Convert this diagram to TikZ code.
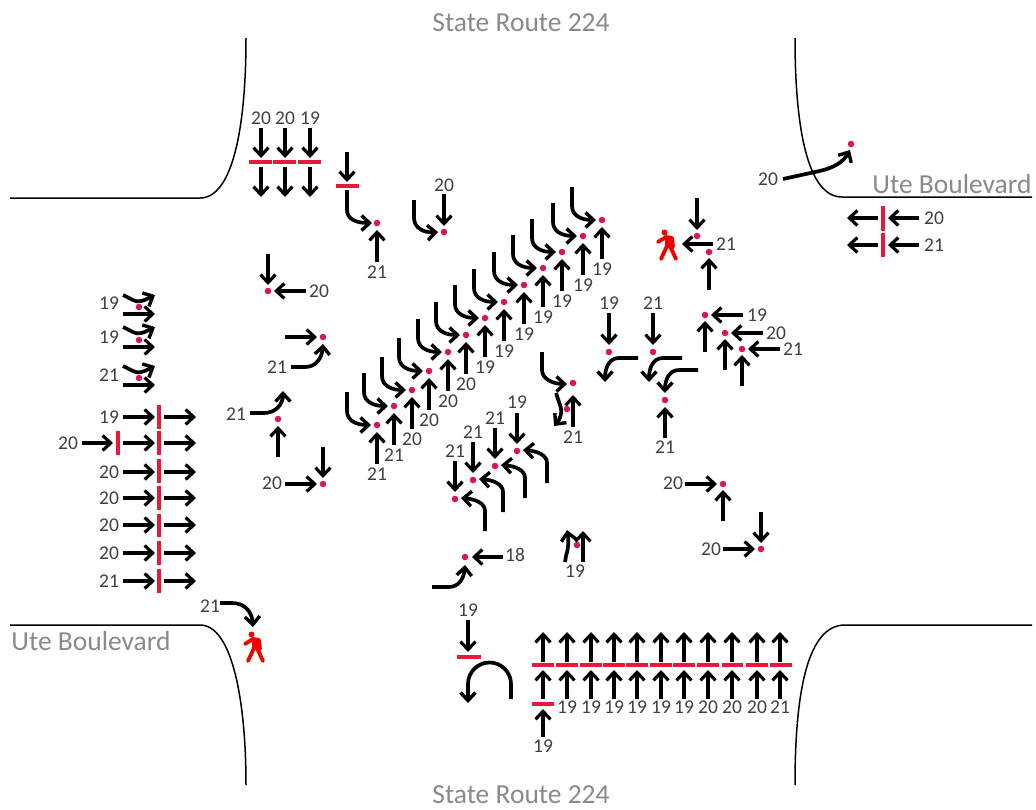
\documentclass[tikz,border=0pt]{standalone}
\usepackage{fontspec}
\setmainfont{Carlito}
\usetikzlibrary{arrows.meta}
\definecolor{barred}{HTML}{E6193C}
\definecolor{dotred}{HTML}{DC1450}
\definecolor{labgray}{HTML}{404040}
\definecolor{titlegray}{HTML}{8A8A8A}
\tikzset{
  mv/.style={draw=black,line width=3.1pt,-{Straight Barb[length=8pt,width=15pt,line width=3.2pt]}},
  mvc/.style={draw=black,line width=3.7pt,-{Straight Barb[length=8pt,width=15pt,line width=3.4pt]}},
  road/.style={draw=black,line width=1.5pt},
  bar/.style={draw=barred,line width=3.4pt},
  rd/.style={circle,fill=dotred,inner sep=0pt,minimum size=6.5pt},
  lab/.style={text=labgray,inner sep=0pt,font=\fontsize{19.5}{22}\selectfont},
  ttl/.style={text=titlegray,inner sep=0pt,font=\fontsize{27.5}{29}\selectfont},
  pedline/.style={draw=red!95!black,line width=3.8pt,line cap=round,line join=round}
}
\newcounter{cn}
\newcommand\sa[4]{\stepcounter{cn}\coordinate (s\thecn) at (#1,#2);\coordinate (t\thecn) at (#3,#4);\draw[mv] (s\thecn) -- (t\thecn);}
\newcommand\ca[5]{\stepcounter{cn}\coordinate (s\thecn) at (#1);\coordinate (t\thecn) at (#5);\draw[mvc] (s\thecn) -- (#2) .. controls (#3) and (#4) .. (t\thecn);}
\newcommand\bh[3]{\stepcounter{cn}\coordinate (b\thecn) at (#1,#3);\coordinate (e\thecn) at (#2,#3);\draw[bar] (b\thecn) -- (e\thecn);}
\newcommand\bv[3]{\stepcounter{cn}\coordinate (b\thecn) at (#1,#2);\coordinate (e\thecn) at (#1,#3);\draw[bar] (b\thecn) -- (e\thecn);}
\newcommand\lb[3]{\stepcounter{cn}\node[lab] (l\thecn) at (#1,#2) {#3};}
\newcommand\pedfig[2]{\begin{scope}[shift={(#1,#2)}]
  \fill[red!95!black] (-3.5,-12.5) circle (3);
  \draw[pedline] (-10,-3) -- (-2,-8) -- (4,-7) -- (5,2);
  \draw[pedline] (-7,14) -- (-1,1) -- (2,1) -- (8,14);
  \draw[pedline] (-1,-7) -- (-1,1);
  \draw[pedline] (2,-6) -- (2,1);
\end{scope}}
\begin{document}
\begin{tikzpicture}[x=1pt,y=-1pt]
\useasboundingbox (0,0) rectangle (1036,809);
\fill[white] (0,0) rectangle (1036,809);
% roads
\draw[road] (10,198) -- (200,198) .. controls (232,198) and (246,130) .. (246,38);
\draw[road] (795,38) .. controls (795,130) and (808,197) .. (842,197) -- (1032,197);
\draw[road] (10,625) -- (200,625) .. controls (232,625) and (246,700) .. (246,785);
\draw[road] (795,785) .. controls (795,690) and (808,625) .. (845,625) -- (1032,625);
% titles
\node[ttl] (tn) at (521,23) {State Route 224};
\node[ttl] (ts) at (521,795) {State Route 224};
\node[ttl] (te) at (952,184) {Ute Boulevard};
\node[ttl] (tw) at (91,641) {Ute Boulevard};
% top stack
\foreach \x/\l in {261/20,285/20,310/19}{
  \lb{\x}{118}{\l}
  \sa{\x}{128}{\x}{158}
  \bh{\the\numexpr\x-12\relax}{\the\numexpr\x+11\relax}{162}
  \sa{\x}{167}{\x}{197}
}
\sa{347}{152}{347}{182}
\bh{336}{359}{186}
% diagonal-style turn + through pairs
\foreach \i/\x/\y/\l in {a/602/220/19,b/583/236/19,c/562/252/19,d/543/268/19,e/524/285/19,f/504/302/19,g/485/318/19,h/466/335/20,i/448/352/20,j/429/371/20,k/412/390/20,m/394/406/21,n/377/425/21}{
  \node[rd] (d\i) at (\x,\y) {};
  \draw[mvc] ([shift={(-30,-33)}]d\i.center) -- ([shift={(-30,-14)}]d\i.center) .. controls ([shift={(-30,-4)}]d\i.center) and ([shift={(-20,0)}]d\i.center) .. ([shift={(-6,0)}]d\i.center);
  \draw[mv] ([shift={(0,39)}]d\i.center) -- ([shift={(0,7)}]d\i.center);
  \node[lab] (q\i) at ([shift={(0,49)}]d\i.center) {\l};
}
% near stop bar pair
\node[rd] (p1) at (377,223) {};
\coordinate (p1t) at (347,190);
\draw[mvc] (p1t) -- (347,210) .. controls (347,219) and (356,223) .. ([xshift=-5pt]p1.center);
\draw[mv] ([shift={(0,39)}]p1.center) -- ([shift={(0,7)}]p1.center);
\node[lab] (p1l) at (377,272) {21};
\node[rd] (p2) at (444,232) {};
\coordinate (p2t) at (414,200);
\draw[mvc] (p2t) -- (414,218) .. controls (414,228) and (424,233) .. ([xshift=-6pt]p2.center);
\draw[mv] ([shift={(0,-38)}]p2.center) -- ([shift={(0,-6)}]p2.center);
\node[lab] (p2l) at (444,185) {20};
\node[rd] (p3) at (268,291) {};
\draw[mv] ([shift={(0,-37)}]p3.center) -- ([shift={(0,-6)}]p3.center);
\draw[mv] ([shift={(38,0)}]p3.center) -- ([shift={(6,0)}]p3.center);
\node[lab] (p3l) at (319,291) {20};
% left lane-shift group
\foreach \i/\yc/\ys/\yd/\lbl/\ly in {1/295/314/307/19/303,2/327/347/340/19/337,3/366/385/378/21/375}{
  \node[rd] (w\i) at (139,\yd) {};
  \node[lab] (wl\i) at (109,\ly) {\lbl};
  \sa{123}{\ys}{155}{\ys}
  \pgfmathsetmacro\ya{\yc+5}\pgfmathsetmacro\yb{\yc+8}\pgfmathsetmacro\yf{\yc+6}
  \ca{123,\yc}{133,\ya}{138,\yb}{143,\yf}{155,\yc}
}
% west lanes
\foreach \y/\l/\ya/\yb in {417/19/405/429,443/20/431/455,472/20/459/483,498/20/486/510,525/20/514/537,553/20/541/565,581/21/569/593}{
  \sa{123}{\y}{155}{\y}
  \bv{159}{\ya}{\yb}
  \sa{164}{\y}{196}{\y}
}
\foreach \y/\l in {417/19,472/20,498/20,525/20,553/20,581/21}{\lb{109}{\y}{\l}}
\lb{68}{443}{20}
\sa{82}{443}{113}{443}
\bv{118}{431}{455}
% middle-left
\node[rd] (e1) at (323,337) {};
\draw[mv] ([shift={(-38,0)}]e1.center) -- ([shift={(-6,0)}]e1.center);
\coordinate (e1t) at (291,367);
\draw[mvc] (e1t) -- (305,367) .. controls (316,367) and (322,358) .. ([shift={(0,7)}]e1.center);
\lb{277}{367}{21}
\node[rd] (e2) at (278,419) {};
\draw[mv] ([shift={(0,38)}]e2.center) -- ([shift={(0,7)}]e2.center);
\ca{250,413}{264,413}{276,413}{283,404}{283,391}
\lb{236}{414}{21}
\node[rd] (e3) at (323,484) {};
\draw[mv] ([shift={(0,-37)}]e3.center) -- ([shift={(0,-6)}]e3.center);
\draw[mv] ([shift={(-38,0)}]e3.center) -- ([shift={(-6,0)}]e3.center);
\lb{272}{483}{20}
% centre pair with right turn
\node[rd] (c1) at (573,383) {};
\draw[mvc] ([shift={(-31,-31)}]c1.center) -- ([shift={(-31,-13)}]c1.center) .. controls ([shift={(-31,-4)}]c1.center) and ([shift={(-20,1)}]c1.center) .. ([shift={(-6,1)}]c1.center);
\draw[mv] ([shift={(0,44)}]c1.center) -- ([shift={(0,12)}]c1.center);
\lb{573}{437}{21}
\node[rd] (c2) at (567,409) {};
\ca{556,393}{559,402}{562,410}{563,415}{554,426}
% south lefts
\foreach \i/\x/\y/\l/\ly in {a/517/451/19/402,b/495/466/21/418,c/473/480/21/432,d/455/499/21/451}{
  \node[rd] (s\i) at (\x,\y) {};
  \draw[mv] ([shift={(0,-38)}]s\i.center) -- ([shift={(0,-7)}]s\i.center);
  \draw[mvc] ([shift={(30,32)}]s\i.center) -- ([shift={(30,12)}]s\i.center) .. controls ([shift={(30,4)}]s\i.center) and ([shift={(20,0)}]s\i.center) .. ([shift={(6,-1)}]s\i.center);
  \node[lab] (sl\i) at (\x,\ly) {\l};
}
\node[rd] (s5) at (465,557) {};
\draw[mv] ([shift={(38,0)}]s5.center) -- ([shift={(7,0)}]s5.center);
\lb{515}{555}{18}
\coordinate (s5t) at (432,587);
\draw[mvc] (s5t) -- (449,587) .. controls (459,587) and (464,578) .. ([shift={(0,8)}]s5.center);
\node[rd] (s6) at (577,545) {};
\sa{583}{562}{583}{531}
\ca{565,562}{566,556}{568,550}{569,542}{567,530}
\lb{575}{571}{19}
% east lefts
\foreach \i/\x/\l in {a/609/19,b/653/21}{
  \node[rd] (n\i) at (\x,352) {};
  \draw[mv] ([shift={(0,-39)}]n\i.center) -- ([shift={(0,-7)}]n\i.center);
  \draw[mvc] ([shift={(29,6)}]n\i.center) -- ([shift={(10,6)}]n\i.center) .. controls ([shift={(0,6)}]n\i.center) and ([shift={(-4,16)}]n\i.center) .. ([shift={(-4,30)}]n\i.center);
  \node[lab] (nl\i) at (\x,303) {\l};
}
\node[rd] (n3) at (665,400) {};
\draw[mv] ([shift={(0,38)}]n3.center) -- ([shift={(0,7)}]n3.center);
\draw[mvc] ([shift={(33,-30)}]n3.center) -- ([shift={(14,-30)}]n3.center) .. controls ([shift={(4,-30)}]n3.center) and ([shift={(0,-20)}]n3.center) .. ([shift={(0,-7)}]n3.center);
\lb{665}{447}{21}
% pedestrian NE
\pedfig{668}{245}
\node[rd] (o1) at (697,236) {};
\draw[mv] ([shift={(0,-38)}]o1.center) -- ([shift={(0,-6)}]o1.center);
\node[rd] (o2) at (709,252) {};
\draw[mv] ([shift={(0,38)}]o2.center) -- ([shift={(0,6)}]o2.center);
\sa{713}{244}{682}{244}
\lb{726}{244}{21}
\foreach \i/\x/\y/\l/\lx in {a/705/315/19/757,b/725/333/20/776,c/742/349/21/793}{
  \node[rd] (r\i) at (\x,\y) {};
  \draw[mv] ([shift={(38,0)}]r\i.center) -- ([shift={(6,0)}]r\i.center);
  \draw[mv] ([shift={(0,37)}]r\i.center) -- ([shift={(0,6)}]r\i.center);
  \node[lab] (rl\i) at (\lx,\y) {\l};
}
% lower right
\node[rd] (u1) at (723,484) {};
\draw[mv] ([shift={(-38,0)}]u1.center) -- ([shift={(-6,0)}]u1.center);
\draw[mv] ([shift={(0,37)}]u1.center) -- ([shift={(0,6)}]u1.center);
\lb{673}{483}{20}
\node[rd] (u2) at (761,549) {};
\draw[mv] ([shift={(-38,0)}]u2.center) -- ([shift={(-6,0)}]u2.center);
\draw[mv] ([shift={(0,-37)}]u2.center) -- ([shift={(0,-6)}]u2.center);
\lb{711}{549}{20}
% south approach
\lb{468}{610}{19}
\sa{468}{620}{468}{652}
\bh{457}{481}{657}
\coordinate (ut) at (511,699);\coordinate (uh) at (468,703);
\draw[mvc] (ut) -- (511,684) arc[start angle=0,end angle=-180,radius=21.5] -- (uh);
\foreach \x/\a/\b/\l in {543/532/554/,567/556/578/19,591/580/602/19,614/603/625/19,637/626/648/19,661/650/672/19,684/673/695/19,708/697/719/20,732/722/743/20,757/746/768/20,780/770/792/21}{
  \sa{\x}{662}{\x}{632}
  \bh{\a}{\b}{665}
  \sa{\x}{699}{\x}{670}
  \lb{\x}{707}{\l}
}
\bh{532}{554}{704}
\sa{543}{737}{543}{709}
\lb{543}{746}{19}
% SW ped
\lb{210}{606}{21}
\ca{220,603}{232,603}{245,603}{252,612}{253,627}
\pedfig{255}{647}
% NE
\node[rd] (z1) at (851,144) {};
\coordinate (z1t) at (783,179);
\draw[mvc] (z1t) -- (815,172) .. controls (835,168) and (843,162) .. ([shift={(-1,6)}]z1.center);
\lb{768}{179}{20}
\foreach \y/\l/\a/\b in {218/20/206/231,245/21/233/257}{
  \sa{919}{\y}{888}{\y}
  \bv{883}{\a}{\b}
  \sa{878}{\y}{847}{\y}
  \lb{934}{\y}{\l}
}
\end{tikzpicture}
\end{document}
